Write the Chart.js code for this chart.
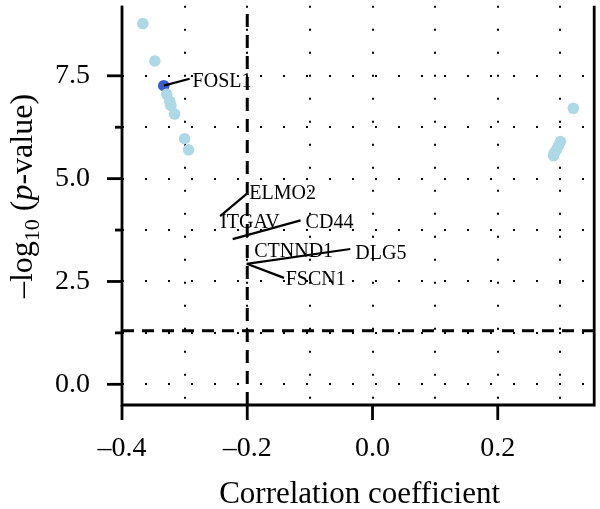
<!DOCTYPE html>
<html><head><meta charset="utf-8">
<script src="https://cdn.jsdelivr.net/npm/chart.js@4"></script>
<style>html,body{margin:0;padding:0;background:#fff}canvas{display:block}</style>
</head><body>
<canvas id="c" width="600" height="509"></canvas>
<script>
// background genes (light blue)
const bgCorrelation = [-0.3667, -0.3476, -0.3286, -0.3238, -0.3220, -0.3159, -0.3000, -0.2937, 0.3206, 0.2890, 0.2905, 0.2937, 0.2968, 0.3000];
const bgNegLogP     = [8.77, 7.86, 7.05, 6.88, 6.78, 6.57, 5.97, 5.70, 6.71, 5.56, 5.63, 5.70, 5.80, 5.90];
// highlighted gene (dark blue)
const hiCorrelation = [-0.3333];
const hiNegLogP     = [7.26];
// thresholds
const corrCutoff = -0.2;
const pCutoff = 0.05;
// axes
const xTickValues = [-0.4, -0.3, -0.2, -0.1, 0, 0.1, 0.2, 0.3];
const xTickLabels = ['\u20130.4', '', '\u20130.2', '', '0.0', '', '0.2', ''];
const yTickValues = [0, 1.25, 2.5, 3.75, 5, 6.25, 7.5];
const yTickLabels = ['0.0', '', '2.5', '', '5.0', '', '7.5'];
// gene labels (text anchor and leader segments, in data units)
const labelGenes = ['FOSL1', 'ELMO2', 'ITGAV', 'CD44', 'CTNND1', 'DLG5', 'FSCN1'];
const labelX     = [-0.2873, -0.1968, -0.2433, -0.1068, -0.1889, -0.0275, -0.1386];
const labelY     = [7.237, 4.505, 3.81, 3.81, 3.091, 3.05, 2.42];
const segFromX   = [-0.3333, -0.2433, null, -0.2233, null, -0.2008, -0.2008];
const segFromY   = [7.26, 4.09, null, 3.53, null, 2.93, 2.93];
const segToX     = [-0.292, -0.1995, null, -0.1148, null, -0.0354, -0.1413];
const segToY     = [7.43, 4.649, null, 3.985, null, 3.29, 2.588];

const X_MIN = -0.4, X_MAX = 0.354, Y_MIN = -0.503, Y_MAX = 9.202;
const SERIF = '"Liberation Serif", "DejaVu Serif", serif';
const pCut = -Math.log10(pCutoff);

const decor = {
  id: 'decor',
  afterDatasetsDraw(chart) {
    const {ctx, scales: {x, y}} = chart;
    ctx.save();
    ctx.strokeStyle = '#000'; ctx.lineWidth = 2.2; ctx.lineCap = 'butt';
    for (let i = 0; i < labelGenes.length; i++) {
      if (segFromX[i] == null) continue;
      ctx.beginPath();
      ctx.moveTo(x.getPixelForValue(segFromX[i]), y.getPixelForValue(segFromY[i]));
      ctx.lineTo(x.getPixelForValue(segToX[i]), y.getPixelForValue(segToY[i]));
      ctx.stroke();
    }
    ctx.fillStyle = '#000';
    ctx.font = '20px ' + SERIF;
    ctx.textAlign = 'left'; ctx.textBaseline = 'alphabetic';
    for (let i = 0; i < labelGenes.length; i++) {
      ctx.fillText(labelGenes[i], x.getPixelForValue(labelX[i]), y.getPixelForValue(labelY[i]));
    }
    ctx.restore();
  },
  afterDraw(chart) {
    const {ctx, chartArea: a, scales: {x, y}} = chart;
    ctx.save();
    ctx.strokeStyle = '#000'; ctx.lineWidth = 2.8; ctx.lineCap = 'butt';
    // frame (left, bottom, right)
    ctx.beginPath();
    ctx.moveTo(a.left, a.top); ctx.lineTo(a.left, a.bottom); ctx.lineTo(a.right, a.bottom); ctx.lineTo(a.right, a.top);
    ctx.stroke();
    // y ticks
    yTickValues.forEach((v, i) => {
      const py = y.getPixelForValue(v);
      const len = yTickLabels[i] ? 15 : 7;
      ctx.beginPath(); ctx.moveTo(a.left - len, py); ctx.lineTo(a.left, py); ctx.stroke();
    });
    // x ticks
    xTickValues.forEach((v, i) => {
      if (!xTickLabels[i]) return;
      const px = x.getPixelForValue(v);
      ctx.beginPath(); ctx.moveTo(px, a.bottom); ctx.lineTo(px, a.bottom + 15); ctx.stroke();
    });
    // x title
    ctx.fillStyle = '#000';
    ctx.font = '31px ' + SERIF;
    ctx.textAlign = 'center'; ctx.textBaseline = 'alphabetic';
    ctx.fillText('Correlation coefficient', (a.left + a.right) / 2 + 1.5, 503);
    // y title with subscript and italic p
    const parts = [
      {t: '\u2013log', f: '32px ' + SERIF, dy: 0},
      {t: '10', f: '22px ' + SERIF, dy: 7},
      {t: ' (', f: '32px ' + SERIF, dy: 0},
      {t: 'p', f: 'italic 32px ' + SERIF, dy: 0},
      {t: '-value)', f: '32px ' + SERIF, dy: 0}
    ];
    let total = 0;
    parts.forEach(p => { ctx.font = p.f; p.w = ctx.measureText(p.t).width; total += p.w; });
    ctx.translate(32, 196);
    ctx.rotate(-Math.PI / 2);
    ctx.textAlign = 'left';
    let cx = -total / 2;
    parts.forEach(p => { ctx.font = p.f; ctx.fillText(p.t, cx, p.dy); cx += p.w; });
    ctx.restore();
  }
};

new Chart(document.getElementById('c'), {
  type: 'scatter',
  data: {
    datasets: [
      {
        type: 'line', label: 'corr cutoff',
        data: [{x: corrCutoff, y: Y_MIN}, {x: corrCutoff, y: Y_MAX}],
        borderColor: '#000', borderWidth: 3, borderDash: [13, 8], pointRadius: 0, fill: false
      },
      {
        type: 'line', label: 'p cutoff',
        data: [{x: X_MIN, y: pCut}, {x: X_MAX, y: pCut}],
        borderColor: '#000', borderWidth: 3, borderDash: [12, 8], pointRadius: 0, fill: false
      },
      {
        label: 'genes',
        data: bgCorrelation.map((v, i) => ({x: v, y: bgNegLogP[i]})),
        backgroundColor: '#add8e6', borderWidth: 0, pointRadius: 5.8
      },
      {
        label: 'FOSL1',
        data: hiCorrelation.map((v, i) => ({x: v, y: hiNegLogP[i]})),
        backgroundColor: '#3a5fcd', borderWidth: 0, pointRadius: 5.8
      }
    ]
  },
  options: {
    responsive: false, animation: false,
    layout: {padding: {top: 0, right: 3, left: 0, bottom: 0}},
    plugins: {legend: {display: false}, tooltip: {enabled: false}},
    scales: {
      x: {
        type: 'linear', min: X_MIN, max: X_MAX,
        afterBuildTicks: s => { s.ticks = xTickValues.map(v => ({value: v})); },
        afterFit: s => { s.height = 104; s.paddingLeft = 0; s.paddingRight = 0; },
        ticks: {
          autoSkip: false, maxRotation: 0, padding: 27, color: '#000',
          font: {family: SERIF, size: 28},
          callback: (v, i) => xTickLabels[i]
        },
        grid: {drawTicks: false, color: '#000', lineWidth: 2},
        border: {display: false, dash: [2, 21]},
        title: {display: false}
      },
      y: {
        type: 'linear', min: Y_MIN, max: Y_MAX,
        afterBuildTicks: s => { s.ticks = yTickValues.map(v => ({value: v})); },
        afterFit: s => { s.width = 122; s.paddingTop = 0; s.paddingBottom = 0; },
        ticks: {
          autoSkip: false, padding: 32, color: '#000',
          font: {family: SERIF, size: 28},
          callback: (v, i) => yTickLabels[i]
        },
        grid: {drawTicks: false, color: '#000', lineWidth: 2},
        border: {display: false, dash: [2, 21]},
        title: {display: false}
      }
    }
  },
  plugins: [decor]
});
</script>
</body></html>
